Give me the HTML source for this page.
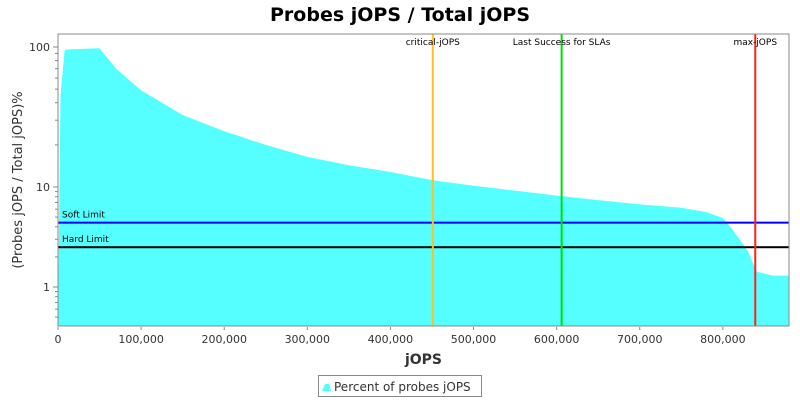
<!DOCTYPE html>
<html><head><meta charset="utf-8"><style>
body{margin:0;background:#fff;font-family:"DejaVu Sans","Liberation Sans",sans-serif}
svg text{font-family:"DejaVu Sans","Liberation Sans",sans-serif}
</style></head><body>
<svg id="c" width="800" height="400" viewBox="0 0 800 400">
<text x="400" y="21" text-anchor="middle" font-size="19" font-weight="bold">Probes jOPS / Total jOPS</text>
<g id="plot"></g>
</svg>
<script>
const xs=[0,3000,8000,10000,30000,50000,55000,70000,100000,150000,200000,250000,300000,350000,400000,450000,500000,550000,600000,650000,700000,750000,780000,800000,810000,820000,830000,838000,841000,860000,879000];
const ys=[0.5,45,95,96,97,98,90,70,49,32.7,25,20,16.4,14.3,12.8,11.2,10.2,9.2,8.2,7.4,6.7,6.2,5.6,4.9,3.9,3.0,2.3,1.6,1.42,1.3,1.3];
const xTicks=[0,100000,200000,300000,400000,500000,600000,700000,800000];
const yTicks=[1,10,100];
const markers=[{v:451000,l:"critical-jOPS",c:"#ffc020"},{v:606000,l:"Last Success for SLAs",c:"#00e000"},{v:839000,l:"max-jOPS",c:"#ff2020"}];
const limits=[{v:4.4,l:"Soft Limit",c:"#0000ff"},{v:2.5,l:"Hard Limit",c:"#000000"}];
const L=58,R=789,T=34,B=326,XMAX=879600;
const X=v=>L+(R-L)*v/XMAX;
function Y(v){const g=Math.log10(v);return g>=1?187-(g-1)*140:187+(1-g)*100;}
const NS="http://www.w3.org/2000/svg",P=document.getElementById('plot');
function el(t,a,txt){const e=document.createElementNS(NS,t);for(const k in a)e.setAttribute(k,a[k]);if(txt!=null)e.textContent=txt;P.appendChild(e);return e;}
const bg=el('rect',{x:L,y:T,width:R-L,height:B-T,fill:'#fff'});

let d=`M${X(xs[0])},${B}`;xs.forEach((x,i)=>d+=` L${X(x)},${Math.min(B,Y(ys[i]))}`);d+=` L${X(xs[xs.length-1])},${B} Z`;
const area=el('path',{d:d,fill:'#55ffff'});

limits.forEach(m=>{const y=Y(m.v);
const ln=el('rect',{x:L,y:y-1,width:R-L,height:2,fill:m.c});

const t=el('text',{x:L+4,y:y-5,'font-size':9},m.l);
});
markers.forEach(m=>{const x=X(m.v);
const ln=el('rect',{x:x-1,y:T,width:2,height:B-T,fill:m.c});

const t=el('text',{x:x,y:T+11,'font-size':9,'text-anchor':'middle'},m.l);
});
const fr=el('rect',{x:L,y:T,width:R-L,height:B-T,fill:'none',stroke:'#888'});

xTicks.forEach(v=>{const x=X(v);
const tk=el('line',{x1:x,x2:x,y1:B+1,y2:B+4,stroke:'#888'});

const t=el('text',{x:x,y:B+17,'font-size':11,'text-anchor':'middle',fill:'#333'},v.toLocaleString('en-US'));
});
for(let dec=0.1;dec<=10;dec*=10){for(let k=2;k<=9;k++){const v=dec*k;const y=Y(v);if(y<T||y>B)continue;
const tk=el('line',{x1:L-3,x2:L,y1:y,y2:y,stroke:'#888'});
}}
yTicks.forEach(v=>{const y=Y(v);
const tk=el('line',{x1:L-5,x2:L,y1:y,y2:y,stroke:'#888'});

const t=el('text',{x:L-8,y:y+4,'font-size':11,'text-anchor':'end',fill:'#333'},String(v));
});
const xt=el('text',{x:(L+R)/2,y:B+38,'font-size':14,'font-weight':'bold','text-anchor':'middle',fill:'#333'},'jOPS');

const yt=el('text',{x:22,y:(T+B)/2,'font-size':13,'text-anchor':'middle',fill:'#333',transform:`rotate(-90 22 ${(T+B)/2})`},'(Probes jOPS / Total jOPS)%');

const lg=el('rect',{x:318.5,y:375.5,width:163,height:21,fill:'#fff',stroke:'#888'});

const li=el('path',{d:'M322,391 L325,384 L329,384 L331,391 Z',fill:'#55ffff'});

const lt=el('text',{x:334,y:391,'font-size':12,fill:'#333'},'Percent of probes jOPS');

</script>
</body></html>
